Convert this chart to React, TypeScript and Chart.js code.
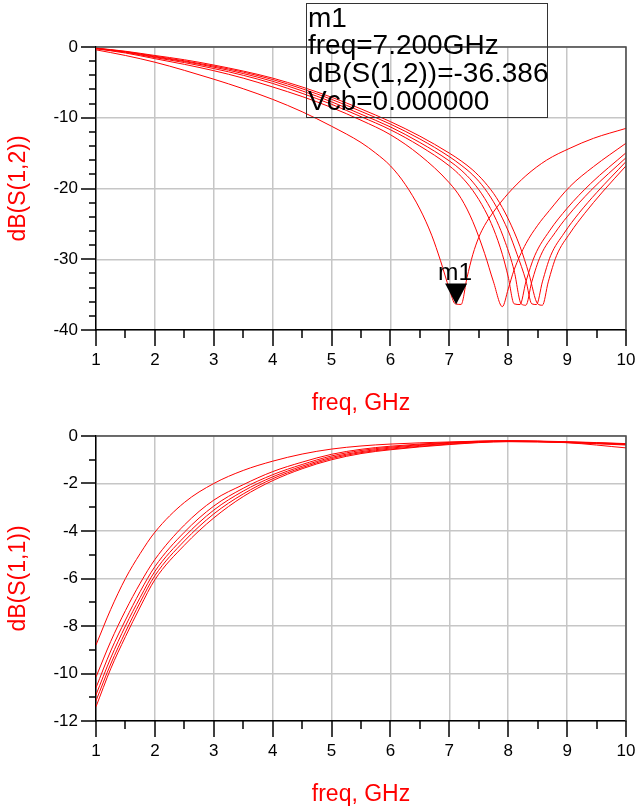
import React, { useEffect, useRef } from 'react';
import { Chart, registerables } from 'chart.js';

Chart.register(...registerables);

const FONT = '"Liberation Sans", Arial, Helvetica, sans-serif';

// ---------- Top chart: dB(S(1,2)) vs freq (GHz) ----------
const s12FreqA = [1, 1.5, 2, 2.5, 3, 3.5, 4, 4.5, 5, 5.5, 5.75, 6, 6.25, 6.5, 6.7, 6.85, 7.0, 7.1, 7.2, 7.3, 7.4, 7.5, 7.6, 7.75, 8.0, 8.3, 8.65, 9.05, 9.45, 10];
const s12DbA = [-0.4, -1.2, -2.15, -3.3, -4.55, -5.9, -7.4, -9.15, -11.2, -13.5, -15.0, -16.8, -19.4, -22.9, -26.6, -30.2, -34.2, -36.3, -36.386, -32.6, -29.3, -26.9, -25.2, -23.3, -20.7, -18.2, -16.0, -14.3, -12.9, -11.5];

const s12FreqB = [1, 1.5, 2, 2.5, 3, 3.5, 4, 4.5, 5, 5.5, 6, 6.5, 7.0, 7.2, 7.4, 7.6, 7.75, 7.9, 8.0, 8.1, 8.3, 8.5, 8.7, 9.05, 9.45, 10];
const s12DbB = [-0.25, -0.85, -1.65, -2.45, -3.35, -4.4, -5.65, -7.0, -8.55, -10.35, -12.4, -15.3, -19.2, -21.4, -24.7, -29.2, -33.2, -36.7, -34.2, -31.5, -27.8, -25.2, -23.1, -19.7, -16.9, -13.6];

const s12FreqC = [1, 1.5, 2, 2.5, 3, 3.5, 4, 4.5, 5, 5.5, 6, 6.5, 7.0, 7.2, 7.4, 7.6, 7.75, 7.9, 8.0, 8.1, 8.2, 8.3, 8.45, 8.7, 9.0, 9.4, 10];
const s12DbC = [-0.22, -0.75, -1.5, -2.2, -3.05, -4.0, -5.15, -6.55, -8.1, -9.85, -11.7, -14.0, -16.8, -18.3, -20.3, -23.0, -25.7, -29.3, -32.5, -36.3, -36.4, -33.2, -29.5, -26.0, -22.8, -19.3, -14.95];

const s12FreqD = [1, 1.5, 2, 2.5, 3, 3.5, 4, 4.5, 5, 5.5, 6, 6.5, 7.0, 7.2, 7.4, 7.6, 7.8, 7.95, 8.1, 8.22, 8.3, 8.4, 8.55, 8.8, 9.0, 9.4, 10];
const s12DbD = [-0.2, -0.7, -1.4, -2.05, -2.85, -3.75, -4.85, -6.2, -7.75, -9.5, -11.3, -13.5, -16.1, -17.4, -19.1, -21.4, -24.5, -27.6, -31.6, -36.3, -36.5, -33.2, -29.5, -26.2, -24.0, -20.3, -15.65];

const s12FreqE = [1, 1.5, 2, 2.5, 3, 3.5, 4, 4.5, 5, 5.5, 6, 6.5, 7.0, 7.2, 7.4, 7.6, 7.8, 8.0, 8.15, 8.3, 8.4, 8.48, 8.58, 8.72, 8.95, 9.2, 9.5, 10];
const s12DbE = [-0.18, -0.65, -1.3, -1.95, -2.7, -3.55, -4.6, -5.9, -7.4, -9.1, -10.9, -13.0, -15.5, -16.7, -18.1, -20.0, -22.6, -26.0, -29.3, -33.0, -36.3, -36.4, -33.2, -29.5, -26.3, -23.5, -20.6, -16.2];

const s12FreqF = [1, 1.5, 2, 2.5, 3, 3.5, 4, 4.5, 5, 5.5, 6, 6.5, 7.0, 7.2, 7.4, 7.6, 7.8, 8.0, 8.2, 8.35, 8.5, 8.58, 8.68, 8.82, 9.05, 9.3, 9.6, 10];
const s12DbF = [-0.15, -0.6, -1.2, -1.8, -2.55, -3.4, -4.4, -5.65, -7.1, -8.75, -10.55, -12.6, -15.0, -16.1, -17.4, -19.1, -21.3, -24.3, -28.2, -32.0, -36.3, -36.5, -33.2, -29.5, -26.3, -23.5, -20.5, -16.8];

// marker m1
const markerName = 'm1';
const markerFreq = 7.2;
const markerDb = -36.386;
const markerLines = ['m1', 'freq=7.200GHz', 'dB(S(1,2))=-36.386', 'Vcb=0.000000'];

// ---------- Bottom chart: dB(S(1,1)) vs freq (GHz) ----------
const s11Freq = [1, 1.25, 1.5, 1.75, 2, 2.5, 3, 3.5, 4, 4.5, 5, 5.5, 6, 7, 8, 9, 10];
const s11DbP = [-8.8, -7.3, -6.0, -4.95, -4.05, -2.8, -2.0, -1.45, -1.06, -0.76, -0.55, -0.42, -0.34, -0.25, -0.2, -0.28, -0.5];
const s11DbQ = [-10.15, -8.65, -7.35, -6.2, -5.2, -3.75, -2.7, -2.05, -1.5, -1.1, -0.77, -0.56, -0.43, -0.27, -0.2, -0.24, -0.32];
const s11DbR = [-10.6, -9.05, -7.75, -6.55, -5.5, -4.05, -2.95, -2.2, -1.63, -1.2, -0.84, -0.61, -0.47, -0.29, -0.21, -0.25, -0.33];
const s11DbS = [-10.9, -9.35, -8.0, -6.8, -5.7, -4.25, -3.12, -2.32, -1.72, -1.27, -0.9, -0.66, -0.51, -0.31, -0.22, -0.26, -0.34];
const s11DbT = [-11.15, -9.6, -8.25, -7.0, -5.88, -4.42, -3.28, -2.44, -1.8, -1.33, -0.95, -0.7, -0.55, -0.34, -0.23, -0.27, -0.36];
const s11DbU = [-11.4, -9.8, -8.45, -7.2, -6.05, -4.6, -3.45, -2.55, -1.88, -1.38, -1.0, -0.74, -0.58, -0.36, -0.24, -0.28, -0.38];

// axes
const xMin = 1, xMax = 10, xStep = 1, xMinorStep = 0.5;
const topYMin = -40, topYMax = 0, topYStep = 10, topYMinor = 2;
const botYMin = -12, botYMax = 0, botYStep = 2, botYMinor = 1;
const xTitle = 'freq, GHz';
const topYTitle = 'dB(S(1,2))';
const botYTitle = 'dB(S(1,1))';

const RED = '#ff0000';

function pts(f: number[], d: number[]) {
  return f.map((v, i) => ({ x: v, y: d[i] }));
}

function ds(data: { x: number; y: number }[]) {
  return {
    data,
    showLine: true,
    borderColor: RED,
    borderWidth: 1,
    pointRadius: 0,
    pointHoverRadius: 0,
    fill: false,
    cubicInterpolationMode: 'monotone',
  };
}

type Cfg = {
  id: string;
  yMin: number;
  yMax: number;
  yStep: number;
  yMinor: number;
  yTitle: string;
  padTop: number;
  xAxisHeight: number;
  marker: boolean;
};

function decorPlugin(cfg: Cfg) {
  return {
    id: 'decor' + cfg.id,
    afterDraw(chart: any) {
      const { ctx, chartArea: ca } = chart;
      const xs = chart.scales.x;
      const ys = chart.scales.y;
      ctx.save();
      // top + right frame
      ctx.strokeStyle = '#4a4a4a';
      ctx.lineWidth = 1.5;
      ctx.beginPath();
      ctx.moveTo(ca.left, ca.top);
      ctx.lineTo(ca.right, ca.top);
      ctx.lineTo(ca.right, ca.bottom);
      ctx.stroke();
      // tick marks
      ctx.strokeStyle = '#000';
      ctx.lineWidth = 1.5;
      for (let v = xMin; v <= xMax + 1e-9; v += xMinorStep) {
        const px = Math.round(xs.getPixelForValue(v));
        const major = Math.abs(v / xStep - Math.round(v / xStep)) < 1e-6;
        ctx.beginPath();
        ctx.moveTo(px, ca.bottom);
        ctx.lineTo(px, ca.bottom + (major ? 16 : 8));
        ctx.stroke();
      }
      for (let v = cfg.yMin; v <= cfg.yMax + 1e-9; v += cfg.yMinor) {
        const py = Math.round(ys.getPixelForValue(v));
        const major = Math.abs(v / cfg.yStep - Math.round(v / cfg.yStep)) < 1e-6;
        ctx.beginPath();
        ctx.moveTo(ca.left, py);
        ctx.lineTo(ca.left - (major ? 15 : 7), py);
        ctx.stroke();
      }
      // titles
      ctx.fillStyle = RED;
      ctx.font = `23px ${FONT}`;
      ctx.textAlign = 'center';
      ctx.textBaseline = 'alphabetic';
      ctx.fillText(xTitle, (ca.left + ca.right) / 2, ca.bottom + 80);
      ctx.save();
      ctx.translate(19, (ca.top + ca.bottom) / 2);
      ctx.rotate(-Math.PI / 2);
      ctx.textBaseline = 'middle';
      ctx.fillText(cfg.yTitle, 0, 0);
      ctx.restore();

      if (cfg.marker) {
        const px = xs.getPixelForValue(markerFreq) - 5;
        const py = ys.getPixelForValue(markerDb);
        ctx.fillStyle = '#000';
        ctx.beginPath();
        ctx.moveTo(px - 11, py - 21);
        ctx.lineTo(px + 11, py - 21);
        ctx.lineTo(px, py);
        ctx.closePath();
        ctx.fill();
        ctx.font = `24.5px ${FONT}`;
        ctx.textAlign = 'center';
        ctx.textBaseline = 'alphabetic';
        ctx.fillText(markerName, px - 1, py - 24);

        // readout box
        ctx.strokeStyle = '#333';
        ctx.lineWidth = 1;
        ctx.strokeRect(306.5, 3.5, 241, 114);
        ctx.font = `28px ${FONT}`;
        ctx.textAlign = 'left';
        markerLines.forEach((t, i) => {
          ctx.fillText(t, 308, 26.5 + i * 27.7);
        });
      }
      ctx.restore();
    },
  };
}

function buildConfig(cfg: Cfg, datasets: any[]): any {
  return {
    type: 'scatter',
    data: { datasets },
    options: {
      responsive: false,
      animation: false,
      devicePixelRatio: 1,
      events: [],
      layout: { padding: { left: 0, right: 13, top: cfg.padTop, bottom: 0 } },
      plugins: { legend: { display: false }, tooltip: { enabled: false } },
      scales: {
        x: {
          type: 'linear',
          min: xMin,
          max: xMax,
          ticks: {
            stepSize: xStep,
            color: '#000',
            font: { size: 17, family: FONT },
            padding: 20,
            maxRotation: 0,
            autoSkip: false,
          },
          grid: { color: '#c6c6c6', lineWidth: 1.5, drawTicks: false },
          border: { display: true, color: '#000', width: 1.5 },
          afterFit: (s: any) => {
            s.height = cfg.xAxisHeight;
            s.paddingLeft = 0;
            s.paddingRight = 0;
          },
        },
        y: {
          type: 'linear',
          min: cfg.yMin,
          max: cfg.yMax,
          ticks: {
            stepSize: cfg.yStep,
            color: '#000',
            font: { size: 17, family: FONT },
            padding: 18,
            autoSkip: false,
          },
          grid: { color: '#c6c6c6', lineWidth: 1.5, drawTicks: false },
          border: { display: true, color: '#000', width: 1.5 },
          afterFit: (s: any) => {
            s.width = 96;
            s.paddingTop = 0;
            s.paddingBottom = 0;
          },
        },
      },
    },
    plugins: [decorPlugin(cfg)],
  };
}

export default function App() {
  const topRef = useRef<HTMLCanvasElement>(null);
  const botRef = useRef<HTMLCanvasElement>(null);

  useEffect(() => {
    const topSets = [
      ds(pts(s12FreqA, s12DbA)),
      ds(pts(s12FreqB, s12DbB)),
      ds(pts(s12FreqC, s12DbC)),
      ds(pts(s12FreqD, s12DbD)),
      ds(pts(s12FreqE, s12DbE)),
      ds(pts(s12FreqF, s12DbF)),
    ];
    const botSets = [s11DbP, s11DbQ, s11DbR, s11DbS, s11DbT, s11DbU].map((d) => ds(pts(s11Freq, d)));
    const c1 = new Chart(
      topRef.current as HTMLCanvasElement,
      buildConfig(
        { id: 'top', yMin: topYMin, yMax: topYMax, yStep: topYStep, yMinor: topYMinor, yTitle: topYTitle, padTop: 47, xAxisHeight: 90, marker: true },
        topSets
      )
    );
    const c2 = new Chart(
      botRef.current as HTMLCanvasElement,
      buildConfig(
        { id: 'bot', yMin: botYMin, yMax: botYMax, yStep: botYStep, yMinor: botYMinor, yTitle: botYTitle, padTop: 16, xAxisHeight: 88, marker: false },
        botSets
      )
    );
    return () => {
      c1.destroy();
      c2.destroy();
    };
  }, []);

  return (
    <div style={{ position: 'absolute', left: 0, top: 0, width: 639, height: 809, background: '#fff' }}>
      <canvas ref={topRef} width={639} height={420} style={{ position: 'absolute', left: 0, top: 0 }} />
      <canvas ref={botRef} width={639} height={389} style={{ position: 'absolute', left: 0, top: 420 }} />
    </div>
  );
}
